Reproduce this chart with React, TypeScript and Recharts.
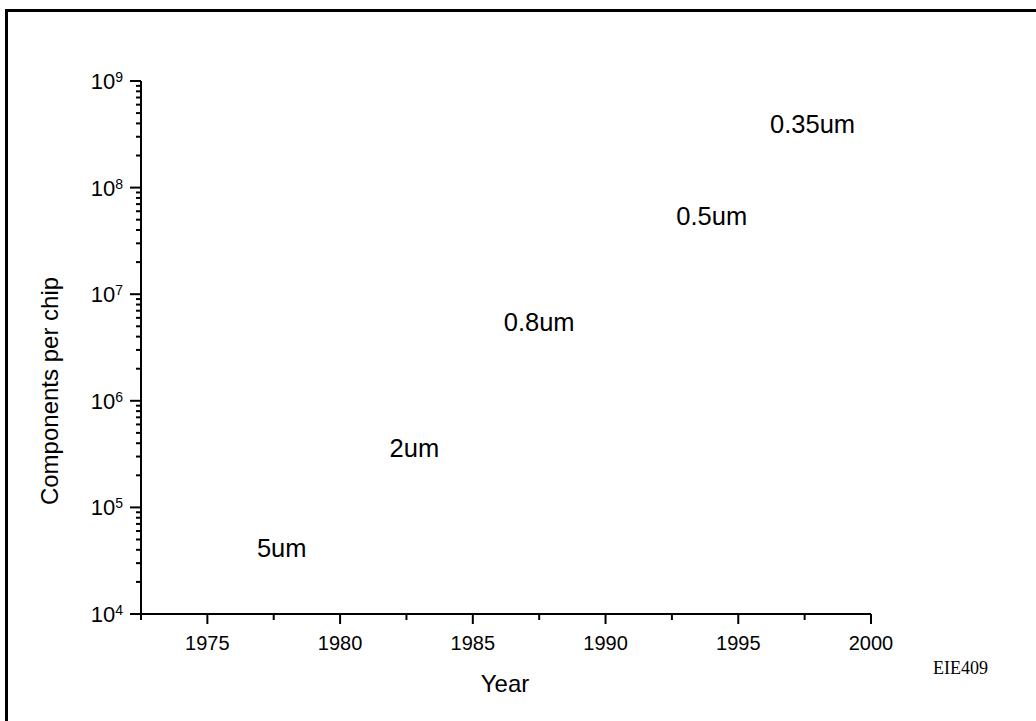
import React from 'react';
import { ScatterChart, Scatter, XAxis, YAxis, Label } from 'recharts';

const FONT = '"Liberation Sans", Arial, Helvetica, sans-serif';

// feature size annotations placed at (year, components per chip)
const nodeLabels = ['5um', '2um', '0.8um', '0.5um', '0.35um'];
const nodeYears = [1977.8, 1982.8, 1987.5, 1994.0, 1997.8];
const nodeComponents = [41000, 360000, 5400000, 54000000, 394000000];

const xTicks = [1972.5, 1975, 1977.5, 1980, 1982.5, 1985, 1987.5, 1990, 1992.5, 1995, 1997.5, 2000];
const yMajorTicks = [1e4, 1e5, 1e6, 1e7, 1e8, 1e9];
const yMinorSteps = [2, 3, 4, 5, 6, 7, 8, 9];

const yTicks = [
  ...yMajorTicks,
  ...yMajorTicks.slice(0, -1).flatMap((d) => yMinorSteps.map((m) => m * d)),
].sort((a, b) => a - b);

const data = nodeLabels.map((label, i) => ({
  label,
  year: nodeYears[i],
  components: nodeComponents[i],
}));

function XTick(props: any) {
  const { x, y, payload } = props;
  const v = payload.value as number;
  const major = v % 5 === 0;
  return (
    <g>
      <line x1={x} x2={x} y1={y} y2={y + (major ? 10 : 6)} stroke="#000" strokeWidth={2} />
      {major && (
        <text x={x} y={y + 36} textAnchor="middle" fontSize={20} fontFamily={FONT} fill="#000">
          {v}
        </text>
      )}
    </g>
  );
}

function YTick(props: any) {
  const { x, y, payload } = props;
  const v = payload.value as number;
  const major = yMajorTicks.includes(v);
  const exp = Math.round(Math.log10(v));
  return (
    <g>
      <line x1={x} x2={x - (major ? 11 : 5)} y1={y} y2={y} stroke="#000" strokeWidth={2} />
      {major && (
        <text x={x - 18} y={y + 8} textAnchor="end" fontSize={22} fontFamily={FONT} fill="#000">
          10
          <tspan fontSize={14} dy={-7}>{exp}</tspan>
        </text>
      )}
    </g>
  );
}

function NodeLabel(props: any) {
  const { cx, cy, payload } = props;
  return (
    <text x={cx} y={cy + 8.5} textAnchor="middle" fontSize={25.5} fontFamily={FONT} fill="#000">
      {payload.label}
    </text>
  );
}

export default function App() {
  return (
    <div style={{ position: 'absolute', left: 0, top: 0, width: 1036, height: 721, background: '#fff', overflow: 'hidden' }}>
      <div
        style={{
          position: 'absolute',
          left: 5,
          top: 9,
          right: -10,
          bottom: -10,
          borderLeft: '3px solid #000',
          borderTop: '3px solid #000',
        }}
      />
      <div style={{ position: 'absolute', left: 0, top: 0 }}>
        <ScatterChart width={1036} height={721} margin={{ top: 81, right: 165, bottom: 0, left: 0 }}>
          <XAxis
            type="number"
            dataKey="year"
            domain={[1972.5, 2000]}
            allowDataOverflow
            ticks={xTicks}
            interval={0}
            height={107}
            tickSize={0}
            tickMargin={0}
            tickLine={false}
            axisLine={{ stroke: '#000', strokeWidth: 2 }}
            tick={<XTick />}
          >
            <Label
              content={() => (
                <text x={505} y={692} textAnchor="middle" fontSize={24} fontFamily={FONT} fill="#000">
                  Year
                </text>
              )}
            />
          </XAxis>
          <YAxis
            type="number"
            dataKey="components"
            scale="log"
            domain={[1e4, 1e9]}
            allowDataOverflow
            ticks={yTicks}
            interval={0}
            width={141}
            tickSize={0}
            tickMargin={0}
            tickLine={false}
            axisLine={{ stroke: '#000', strokeWidth: 2 }}
            tick={<YTick />}
          >
            <Label
              content={() => (
                <text
                  x={58}
                  y={391}
                  transform="rotate(-90 58 391)"
                  textAnchor="middle"
                  fontSize={24}
                  fontFamily={FONT}
                  fill="#000"
                >
                  Components per chip
                </text>
              )}
            />
          </YAxis>
          <Scatter data={data} shape={<NodeLabel />} isAnimationActive={false} />
        </ScatterChart>
      </div>
      <div
        style={{
          position: 'absolute',
          left: 933,
          top: 658,
          fontFamily: '"Liberation Serif", "Times New Roman", serif',
          fontSize: 18,
          lineHeight: '20px',
          color: '#000',
        }}
      >
        EIE409
      </div>
    </div>
  );
}
